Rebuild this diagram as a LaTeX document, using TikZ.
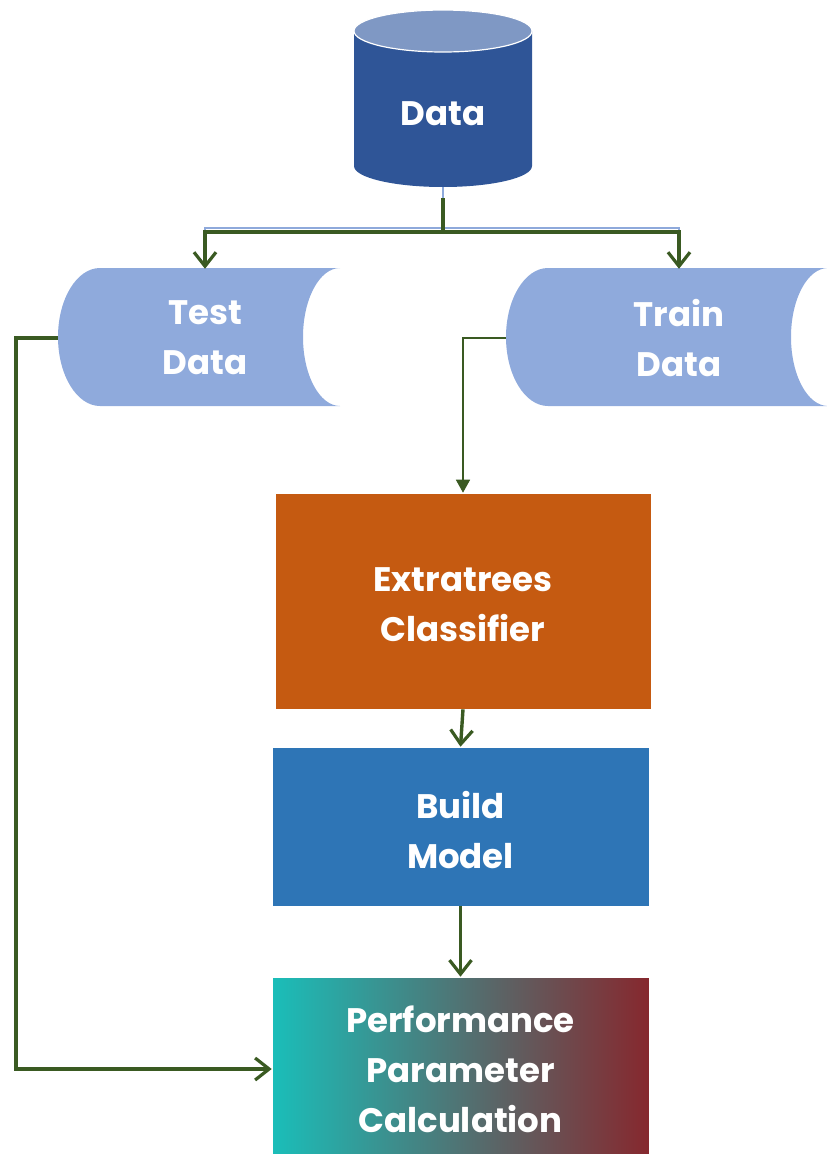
\documentclass[tikz,border=0pt]{standalone}
\usepackage{fontspec}
\setmainfont{Poppins}
\usetikzlibrary{arrows.meta}

\definecolor{cylbody}{HTML}{2F5597}
\definecolor{cyltop}{HTML}{7F98C4}
\definecolor{storefill}{HTML}{8FAADC}
\definecolor{extrafill}{HTML}{C55A11}
\definecolor{buildfill}{HTML}{2E75B6}
\definecolor{flow}{HTML}{3A5A22}
\definecolor{palelink}{HTML}{8EA9DB}
\definecolor{gradleft}{RGB}{26,190,185}
\definecolor{gradmid}{RGB}{110,134,132}
\definecolor{gradright}{RGB}{134,40,46}

\tikzset{
  label/.style={text=white, align=center, font=\bfseries\fontsize{34}{50}\selectfont},
  holder/.style={label, rectangle, inner sep=0pt},
  procbox/.style={label, rectangle, inner sep=0pt, draw=white, line width=0.6pt},
  mainflow/.style={draw=flow, line width=3.4pt,
    -{Straight Barb[length=14pt, width=22pt, line width=3.2pt]}},
  thinflow/.style={draw=flow, line width=1.5pt,
    -{Triangle[length=13pt, width=14pt]}},
}

\begin{document}
\begin{tikzpicture}[x=1pt, y=-1pt]
\useasboundingbox (0,0) rectangle (827,1154);

% database cylinder
\fill[cylbody] (354,31) -- (354,166)
  arc[start angle=180, end angle=0, x radius=89, y radius=21]
  -- (532,31) -- cycle;
\filldraw[fill=cyltop, draw=white, line width=1.2pt] (443,31) ellipse[x radius=89, y radius=21];
\node[holder, minimum width=178pt, minimum height=156pt] (data) at (443,109) {};
\node[label] at (443,114) {Data};

% stored data shapes
\fill[storefill] (100,268) -- (340,268)
  arc[start angle=-90, end angle=-270, x radius=37, y radius=69]
  -- (100,406)
  arc[start angle=90, end angle=270, x radius=42, y radius=69] -- cycle;
\fill[storefill] (548,268) -- (828,268)
  arc[start angle=-90, end angle=-270, x radius=37, y radius=69]
  -- (548,406)
  arc[start angle=90, end angle=270, x radius=42, y radius=69] -- cycle;
\node[holder, minimum width=294pt, minimum height=138pt] (test) at (205,338) {Test\\Data};
\node[holder, minimum width=346pt, minimum height=138pt] (train) at (679,338) {Train\\Data};

% process boxes
\node[procbox, fill=extrafill, minimum width=376pt, minimum height=216pt] (extra) at (463,601) {};
\node[label] at (463,605) {Extratrees\\Classifier};
\node[procbox, fill=buildfill, minimum width=377pt, minimum height=159pt] (build) at (460.5,826.5) {};
\node[label] at (460.5,830) {Build\\Model};
\node[procbox, left color=gradleft, middle color=gradmid, right color=gradright,
      minimum width=377pt, minimum height=184pt] (perf) at (460.5,1069) {Performance\\Parameter\\Calculation};

% split below the database
\coordinate (split) at (443,232);
\draw[palelink, line width=1.2pt] (data.south) -- ++(0,12);
\draw[palelink, line width=1.2pt] (205,234) -- (205,228) -- (679,228) -- (679,234);
\draw[flow, line width=3.4pt] ([yshift=-11pt]data.south) -- (split);
\draw[mainflow] (split) -| (test.north);
\draw[mainflow] (split) -| (train.north);

% flow through the model
\draw[thinflow] (train.west) -| (extra.north);
\draw[mainflow] (extra.south) -- (build.north);
\draw[mainflow] (build.south) -- (perf.north);
\draw[mainflow] (test.west) -- ++(-42,0) |- (perf.west);
\end{tikzpicture}
\end{document}
